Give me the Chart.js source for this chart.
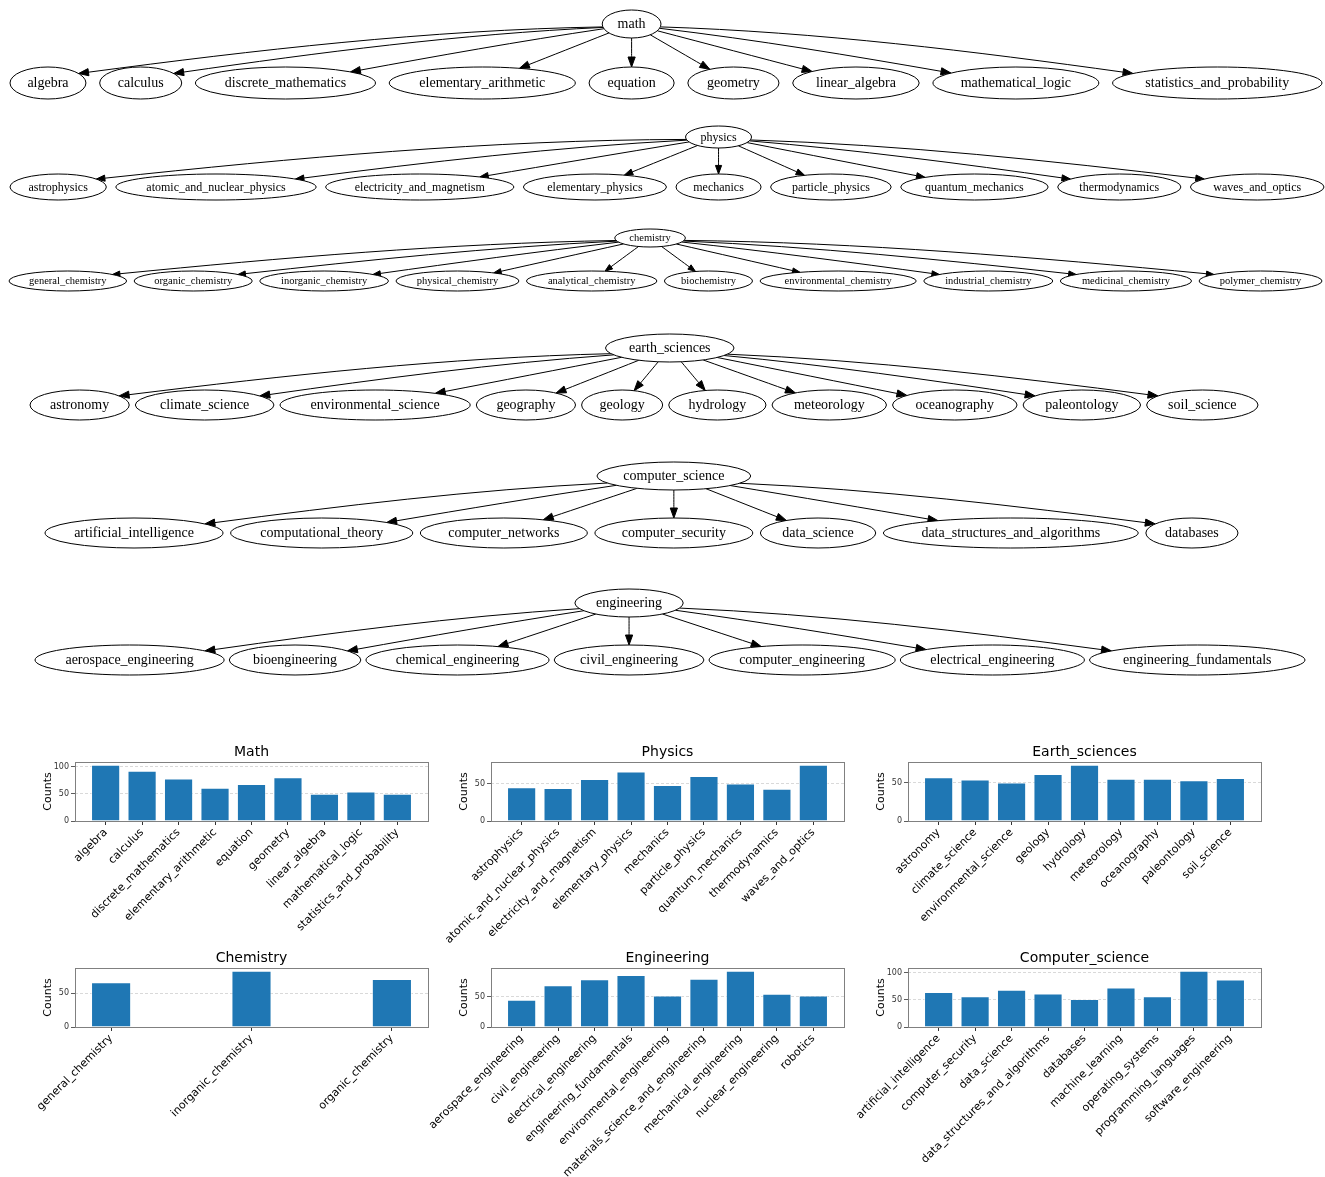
<!DOCTYPE html>
<html>
<head>
<meta charset="utf-8">
<script src="https://cdn.jsdelivr.net/npm/chart.js@4.4.1/dist/chart.umd.min.js"></script>
<style>
html, body { margin: 0; padding: 0; background: #fff; overflow: hidden; }
#page { position: relative; width: 1325px; height: 1177px; }
canvas { position: absolute; }
</style>
</head>
<body>
<div id="page">
<canvas id="trees" width="1325" height="700" style="left:0;top:0"></canvas>
</div>
<script>
// ---- tree children (graph part) ----
const mathTopics = ['algebra', 'calculus', 'discrete_mathematics', 'elementary_arithmetic', 'equation',
    'geometry', 'linear_algebra', 'mathematical_logic', 'statistics_and_probability'];
const physicsTopics = ['astrophysics', 'atomic_and_nuclear_physics', 'electricity_and_magnetism',
    'elementary_physics', 'mechanics', 'particle_physics', 'quantum_mechanics', 'thermodynamics', 'waves_and_optics'];
const chemistryTopics = ['general_chemistry', 'organic_chemistry', 'inorganic_chemistry', 'physical_chemistry',
    'analytical_chemistry', 'biochemistry', 'environmental_chemistry', 'industrial_chemistry',
    'medicinal_chemistry', 'polymer_chemistry'];
const earthTopics = ['astronomy', 'climate_science', 'environmental_science', 'geography', 'geology',
    'hydrology', 'meteorology', 'oceanography', 'paleontology', 'soil_science'];
const csTopics = ['artificial_intelligence', 'computational_theory', 'computer_networks', 'computer_security',
    'data_science', 'data_structures_and_algorithms', 'databases'];
const engTopics = ['aerospace_engineering', 'bioengineering', 'chemical_engineering', 'civil_engineering',
    'computer_engineering', 'electrical_engineering', 'engineering_fundamentals'];

// ---- bar charts ----
const mathLabels = mathTopics;
const mathCounts = [103, 92, 78, 61, 68, 80, 50, 54, 50];
const physicsLabels = physicsTopics;
const physicsCounts = [45, 44, 56, 66, 48, 60, 50, 43, 75];
const earthLabels = ['astronomy', 'climate_science', 'environmental_science', 'geology', 'hydrology',
    'meteorology', 'oceanography', 'paleontology', 'soil_science'];
const earthCounts = [57, 54, 50, 61, 73, 55, 55, 53, 56];
const chemistryLabels = ['general_chemistry', 'inorganic_chemistry', 'organic_chemistry'];
const chemistryCounts = [66, 83, 71];
const engineeringLabels = ['aerospace_engineering', 'civil_engineering', 'electrical_engineering',
    'engineering_fundamentals', 'environmental_engineering', 'materials_science_and_engineering',
    'mechanical_engineering', 'nuclear_engineering', 'robotics'];
const engineeringCounts = [45, 69, 79, 86, 52, 80, 93, 55, 52];
const csLabels = ['artificial_intelligence', 'computer_security', 'data_science', 'data_structures_and_algorithms',
    'databases', 'machine_learning', 'operating_systems', 'programming_languages', 'software_engineering'];
const csCounts = [65, 57, 69, 62, 52, 73, 57, 104, 88];
const yTickValues = [0, 50, 100];

const page = document.getElementById('page');
const serif = '"Liberation Serif", "Times New Roman", serif';
const sans = '"DejaVu Sans", sans-serif';

// ---------- trees ----------
const treeLayouts = [
    { root: 'math', kids: mathTopics, font: 14, left: 10, right: 1322, rootY: 24, kidY: 83, rootRy: 14, kidRy: 16 },
    { root: 'physics', kids: physicsTopics, font: 12, left: 10, right: 1324, rootY: 137, kidY: 187, rootRy: 11, kidRy: 13 },
    { root: 'chemistry', kids: chemistryTopics, font: 10.5, left: 9, right: 1322, rootY: 238, kidY: 281, rootRy: 9, kidRy: 10 },
    { root: 'earth_sciences', kids: earthTopics, font: 14, left: 30, right: 1258, rootY: 348, kidY: 405, rootRy: 14, kidRy: 15 },
    { root: 'computer_science', kids: csTopics, font: 14, left: 45, right: 1238, rootY: 476, kidY: 533, rootRy: 14, kidRy: 15 },
    { root: 'engineering', kids: engTopics, font: 14, left: 35, right: 1305, rootY: 603, kidY: 660, rootRy: 14, kidRy: 15 }
];

const measureCtx = document.createElement('canvas').getContext('2d');
function textWidth(s, size) {
    measureCtx.font = size + 'px ' + serif;
    return measureCtx.measureText(s).width;
}
function nodeWidth(s, size) {
    return 1.3 * textWidth(s, size) + 1.6 * size;
}

// graphviz-like row: ellipses sized by label, spread over the span, root above the median child
function layoutTree(t) {
    const widths = t.kids.map(k => nodeWidth(k, t.font));
    const total = widths.reduce((a, b) => a + b, 0);
    const gap = (t.right - t.left - total) / (t.kids.length - 1);
    let x = t.left;
    const kids = t.kids.map((k, i) => {
        const node = { x: x + widths[i] / 2, y: t.kidY, label: k, rx: widths[i] / 2, ry: t.kidRy, font: t.font };
        x += widths[i] + gap;
        return node;
    });
    const m = kids.length;
    const rootX = m % 2 ? kids[(m - 1) / 2].x : (kids[m / 2 - 1].x + kids[m / 2].x) / 2;
    const root = { x: rootX, y: t.rootY, label: t.root, rx: nodeWidth(t.root, t.font) / 2, ry: t.rootRy, font: t.font };
    return [root].concat(kids);
}

function onEllipse(c, tx, ty) {
    const dx = tx - c.x, dy = ty - c.y;
    const k = 1 / Math.hypot(dx / c.rx, dy / c.ry);
    return { x: c.x + dx * k, y: c.y + dy * k };
}

const treePlugin = {
    id: 'treePlugin',
    afterDatasetsDraw(chart) {
        const ctx = chart.ctx;
        const sx = chart.scales.x.getPixelForValue(1) - chart.scales.x.getPixelForValue(0);
        const sy = Math.abs(chart.scales.y.getPixelForValue(1) - chart.scales.y.getPixelForValue(0));
        ctx.save();
        chart.data.datasets.forEach((ds, di) => {
            const meta = chart.getDatasetMeta(di);
            const nodes = ds.data.map((d, j) => ({
                x: meta.data[j].x, y: meta.data[j].y,
                rx: d.rx * sx, ry: d.ry * sy, label: d.label, font: d.font
            }));
            const root = nodes[0];
            const s = root.font / 14;
            ctx.strokeStyle = '#000';
            ctx.fillStyle = '#000';
            ctx.lineWidth = 1;
            // edges
            nodes.slice(1).forEach(kid => {
                const p0 = onEllipse(root, kid.x, kid.y);
                const lim = 5 * kid.rx;
                const qx = kid.x + Math.max(-lim, Math.min(lim, root.x - kid.x));
                const p3 = onEllipse(kid, qx, root.y);
                const dx = p3.x - p0.x, dy = p3.y - p0.y;
                const f = Math.min(1, Math.max(0, (Math.abs(dx) - 200) / 400));
                const bend = dy / 3 * f;
                const p1 = { x: p0.x + dx / 3, y: p0.y + dy / 3 - bend };
                const p2 = { x: p0.x + 2 * dx / 3, y: p0.y + 2 * dy / 3 - bend * 0.6 };
                let ux = p3.x - p2.x, uy = p3.y - p2.y;
                const ul = Math.hypot(ux, uy) || 1;
                ux /= ul; uy /= ul;
                const len = 10 * s, hw = 3.6 * s;
                const bx = p3.x - ux * len, by = p3.y - uy * len;
                ctx.beginPath();
                ctx.moveTo(p0.x, p0.y);
                ctx.bezierCurveTo(p1.x, p1.y, p2.x, p2.y, bx, by);
                ctx.stroke();
                ctx.beginPath();
                ctx.moveTo(p3.x, p3.y);
                ctx.lineTo(bx - uy * hw, by + ux * hw);
                ctx.lineTo(bx + uy * hw, by - ux * hw);
                ctx.closePath();
                ctx.fill();
                ctx.stroke();
            });
            // nodes
            nodes.forEach(n => {
                ctx.beginPath();
                ctx.ellipse(n.x, n.y, n.rx, n.ry, 0, 0, Math.PI * 2);
                ctx.fillStyle = '#fff';
                ctx.fill();
                ctx.stroke();
                ctx.fillStyle = '#000';
                ctx.font = n.font + 'px ' + serif;
                ctx.textAlign = 'center';
                ctx.textBaseline = 'middle';
                ctx.fillText(n.label, n.x, n.y + 0.5);
            });
        });
        ctx.restore();
    }
};

new Chart(document.getElementById('trees'), {
    type: 'scatter',
    data: {
        datasets: treeLayouts.map(t => ({ data: layoutTree(t), pointRadius: 0 }))
    },
    options: {
        responsive: false,
        animation: false,
        events: [],
        layout: { padding: 0 },
        plugins: { legend: { display: false }, tooltip: { enabled: false } },
        scales: {
            x: { type: 'linear', min: 0, max: 1325, display: false },
            y: { type: 'linear', min: 0, max: 700, reverse: true, display: false }
        }
    },
    plugins: [treePlugin]
});

// ---------- bar charts ----------
// axes frame + title centred over the plot area
const framePlugin = {
    id: 'frame',
    afterDraw(chart, args, opts) {
        const a = chart.chartArea;
        const ctx = chart.ctx;
        ctx.save();
        ctx.strokeStyle = '#808080';
        ctx.lineWidth = 1;
        ctx.strokeRect(Math.round(a.left) + 0.5, Math.round(a.top) + 0.5,
            Math.round(a.right - a.left), Math.round(a.bottom - a.top));
        ctx.fillStyle = '#000';
        ctx.font = '14px ' + sans;
        ctx.textAlign = 'center';
        ctx.textBaseline = 'middle';
        ctx.fillText(opts.title, (a.left + a.right) / 2, a.top - 10);
        ctx.restore();
    }
};

function barChart(title, labels, counts, left, top, height, spacing) {
    const padL = 140, yW = 33, plotW = 353, padR = 40, titleH = 21, plotH = 59;
    const canvas = document.createElement('canvas');
    canvas.width = padL + yW + plotW + padR;
    canvas.height = height;
    canvas.style.left = (left - yW - padL) + 'px';
    canvas.style.top = (top - titleH) + 'px';
    page.appendChild(canvas);
    const n = labels.length;
    const margin = 0.05 * ((n - 1) + 0.8 / spacing);
    return new Chart(canvas, {
        type: 'bar',
        data: {
            datasets: [{
                data: counts.map((v, i) => ({ x: i, y: v })),
                backgroundColor: '#1f77b4',
                borderColor: 'rgba(255,255,255,0.55)',
                borderWidth: 1,
                barPercentage: 0.8 / spacing,
                categoryPercentage: 1
            }]
        },
        options: {
            responsive: false,
            animation: false,
            events: [],
            layout: { padding: { left: padL, right: padR, top: titleH, bottom: 0 } },
            plugins: {
                legend: { display: false },
                tooltip: { enabled: false },
                frame: { title: title }
            },
            scales: {
                x: {
                    type: 'linear', offset: false,
                    min: -0.4 / spacing - margin, max: (n - 1) + 0.4 / spacing + margin,
                    afterBuildTicks: s => { s.ticks = labels.map((_, i) => ({ value: i })); },
                    afterFit: s => { s.height = height - titleH - plotH; },
                    ticks: {
                        autoSkip: false, minRotation: 45, maxRotation: 45, padding: 1,
                        color: '#000', font: { family: sans, size: 11 },
                        callback: v => labels[v]
                    },
                    grid: { display: true, drawOnChartArea: false, drawTicks: true, tickLength: 4, color: '#333', offset: false },
                    border: { display: false }
                },
                y: {
                    min: 0, max: Math.max(...counts) * 1.05,
                    afterBuildTicks: s => { s.ticks = yTickValues.filter(v => v <= s.max).map(v => ({ value: v })); },
                    afterFit: s => { s.width = yW; },
                    ticks: { padding: 2, color: '#333', font: { family: sans, size: 8 } },
                    grid: { color: '#cfcfcf', lineWidth: 0.8, tickColor: '#333', tickLength: 4, tickBorderDash: [] },
                    border: { display: false, dash: [3, 2] },
                    title: { display: true, text: 'Counts', color: '#000', padding: 0, font: { family: sans, size: 11 } }
                }
            }
        },
        plugins: [framePlugin]
    });
}

barChart('Math', mathLabels, mathCounts, 75, 762, 210, 1);
barChart('Physics', physicsLabels, physicsCounts, 491, 762, 210, 1);
barChart('Earth_sciences', earthLabels, earthCounts, 908, 762, 210, 1);
barChart('Chemistry', chemistryLabels, chemistryCounts, 75, 968, 230, 2.8);
barChart('Engineering', engineeringLabels, engineeringCounts, 491, 968, 230, 1);
barChart('Computer_science', csLabels, csCounts, 908, 968, 230, 1);
</script>
</body>
</html>
